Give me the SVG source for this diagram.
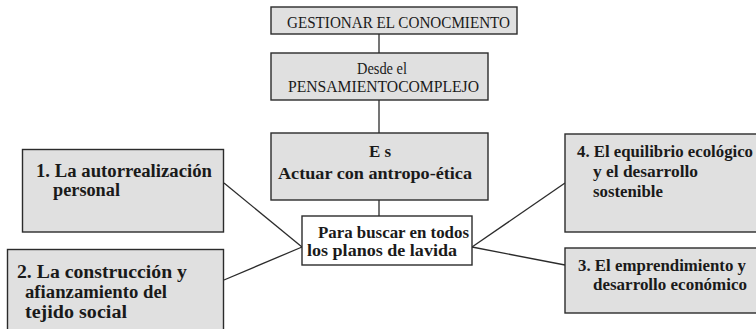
<svg xmlns="http://www.w3.org/2000/svg" width="756" height="329" viewBox="0 0 756 329">
<style>
.box{fill:#e0e0e0;stroke:#2b2b2b;stroke-width:1.4}
.wbox{fill:#ffffff;stroke:#2b2b2b;stroke-width:1.4}
.t{font-family:"Liberation Serif","Times New Roman",serif;fill:#1a1a1a}
.r{font-size:16px;font-weight:normal}
.b15{font-size:17px;font-weight:bold}
.b16{font-size:17px;font-weight:bold}
.b17{font-size:18px;font-weight:bold}
.b17r{font-size:17px;font-weight:bold}
.c{fill:none;stroke:#2b2b2b;stroke-width:1.3}
</style>
<rect width="756" height="329" fill="#ffffff"/>
<g id="connectors">
<line class="c" x1="379" y1="34" x2="379" y2="53"/>
<line class="c" x1="379" y1="100" x2="379" y2="133"/>
<line class="c" x1="379" y1="200" x2="379" y2="216"/>
<line class="c" x1="224" y1="183" x2="302" y2="247"/>
<line class="c" x1="224" y1="280" x2="302" y2="247"/>
<line class="c" x1="472" y1="247" x2="565" y2="183"/>
<line class="c" x1="472" y1="247" x2="565" y2="265"/>
</g>
<g id="gestionar">
<rect class="box" x="271" y="7" width="246" height="27"/>
<text class="t r" x="287" y="28" textLength="223" lengthAdjust="spacingAndGlyphs">GESTIONAR EL CONOCMIENTO</text>
</g>
<g id="desde">
<rect class="box" x="271" y="53" width="217" height="47"/>
<text class="t r" x="357" y="74" textLength="50" lengthAdjust="spacingAndGlyphs">Desde el</text>
<text class="t r" x="288" y="92" textLength="191" lengthAdjust="spacingAndGlyphs">PENSAMIENTOCOMPLEJO</text>
</g>
<g id="es">
<rect class="box" x="271" y="133" width="217" height="67"/>
<text class="t b15" x="380" y="157" text-anchor="middle">E s</text>
<text class="t b15" x="278" y="179" textLength="194" lengthAdjust="spacingAndGlyphs">Actuar con antropo-ética</text>
</g>
<g id="para">
<rect class="wbox" x="302" y="216" width="170" height="49"/>
<text class="t b16" x="318" y="238" textLength="151" lengthAdjust="spacingAndGlyphs">Para buscar en todos</text>
<text class="t b16" x="307" y="256" textLength="150" lengthAdjust="spacingAndGlyphs">los planos de lavida</text>
</g>
<g id="n1">
<rect class="box" x="22.5" y="149.5" width="201" height="82.5"/>
<text class="t b17" x="36" y="177" textLength="176" lengthAdjust="spacingAndGlyphs">1. La autorrealización</text>
<text class="t b17" x="53" y="196" textLength="67" lengthAdjust="spacingAndGlyphs">personal</text>
</g>
<g id="n2">
<rect class="box" x="7.5" y="249.5" width="216" height="95"/>
<text class="t b17" x="17" y="278" textLength="170" lengthAdjust="spacingAndGlyphs">2. La construcción y</text>
<text class="t b17" x="25" y="298" textLength="142" lengthAdjust="spacingAndGlyphs">afianzamiento del</text>
<text class="t b17" x="25" y="318" textLength="102" lengthAdjust="spacingAndGlyphs">tejido social</text>
</g>
<g id="n4">
<rect class="box" x="565" y="134" width="192" height="98"/>
<text class="t b17r" x="577" y="157" textLength="176" lengthAdjust="spacingAndGlyphs">4. El equilibrio ecológico</text>
<text class="t b17r" x="593" y="177" textLength="105" lengthAdjust="spacingAndGlyphs">y el desarrollo</text>
<text class="t b17r" x="593" y="197" textLength="70" lengthAdjust="spacingAndGlyphs">sostenible</text>
</g>
<g id="n3">
<rect class="box" x="565" y="248" width="192" height="65"/>
<text class="t b17r" x="578" y="271" textLength="168" lengthAdjust="spacingAndGlyphs">3. El emprendimiento y</text>
<text class="t b17r" x="593" y="290" textLength="154" lengthAdjust="spacingAndGlyphs">desarrollo económico</text>
</g>
</svg>
